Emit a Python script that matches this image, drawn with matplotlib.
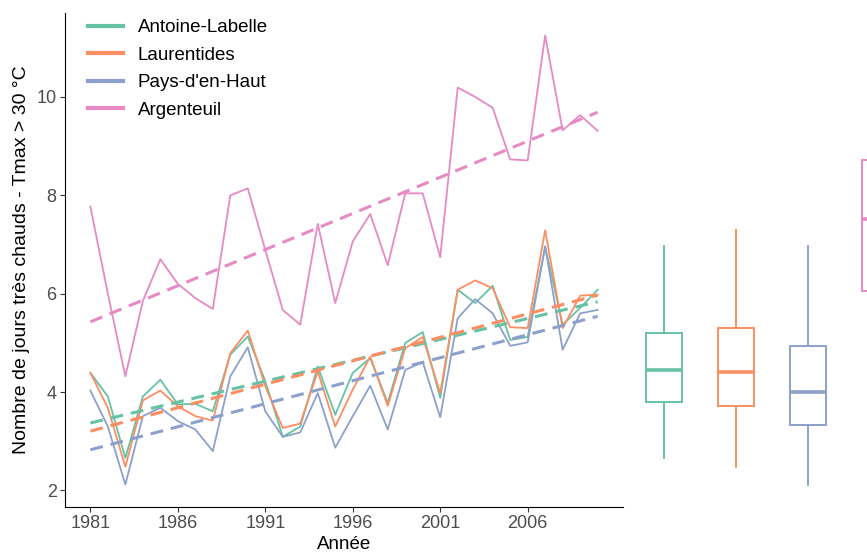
import numpy as np
import matplotlib
matplotlib.use("Agg")
import matplotlib.pyplot as plt

plt.rcParams['font.family'] = ['Liberation Sans', 'DejaVu Sans']

years = list(range(1981, 2011))
names = ["Antoine-Labelle", "Laurentides", "Pays-d'en-Haut", "Argenteuil"]
colors = ["#66C2A5", "#FC8D62", "#8DA0CB", "#E78AC3"]

antoine = [4.39, 3.91, 2.66, 3.91, 4.25, 3.75, 3.76, 3.61, 4.76, 5.13,
           4.22, 3.09, 3.30, 4.52, 3.54, 4.39, 4.69, 3.78, 5.00, 5.22,
           3.88, 6.08, 5.81, 6.16, 5.06, 5.12, 6.96, 5.37, 5.71, 6.08]
laurentides = [4.39, 3.68, 2.48, 3.83, 4.03, 3.71, 3.51, 3.42, 4.79, 5.25,
               4.12, 3.27, 3.36, 4.42, 3.30, 4.05, 4.72, 3.72, 4.89, 5.12,
               3.98, 6.08, 6.27, 6.11, 5.32, 5.30, 7.29, 5.30, 5.96, 5.98]
paysdenhaut = [4.03, 3.30, 2.12, 3.51, 3.68, 3.41, 3.24, 2.80, 4.32, 4.91,
               3.61, 3.09, 3.18, 3.98, 2.87, 3.51, 4.13, 3.24, 4.45, 4.61,
               3.49, 5.50, 5.89, 5.60, 4.94, 5.01, 6.96, 4.86, 5.60, 5.67]
argenteuil = [7.77, 6.00, 4.32, 5.85, 6.70, 6.20, 5.91, 5.69, 8.00, 8.14,
              6.89, 5.67, 5.37, 7.42, 5.81, 7.06, 7.62, 6.58, 8.04, 8.04,
              6.74, 10.19, 10.00, 9.78, 8.73, 8.71, 11.25, 9.32, 9.63, 9.31]

series = [antoine, laurentides, paysdenhaut, argenteuil]
xticks = [1981, 1986, 1991, 1996, 2001, 2006]
xlabel = "Année"
ylabel = "Nombre de jours très chauds - Tmax > 30 °C"

W, H = 867, 554
fig = plt.figure(figsize=(W / 100, H / 100), dpi=100)

# main axes
ax = fig.add_axes([65 / W, (H - 507) / H, 558 / W, 494 / H])
yrs = np.array(years)
for s, c, n in zip(series, colors, names):
    ax.plot(yrs, s, color=c, lw=1.3, label=n, zorder=2)
for s, c in zip(series, colors):
    k, b = np.polyfit(yrs, s, 1)
    ax.plot(yrs, k * yrs + b, color=c, lw=2.2, dashes=(4.2, 2.6), zorder=3)

allv = np.concatenate([np.array(s) for s in series])
lo, hi = allv.min(), allv.max()
r = hi - lo
ylim = (lo - 0.05 * r, hi + 0.05 * r)
ax.set_ylim(ylim)
xr = years[-1] - years[0]
ax.set_xlim(years[0] - 0.05 * xr, years[-1] + 0.05 * xr)
ax.set_xticks(xticks)
ax.set_yticks([2, 4, 6, 8, 10])
for sp in ['top', 'right']:
    ax.spines[sp].set_visible(False)
for sp in ['left', 'bottom']:
    ax.spines[sp].set_linewidth(0.8)
    ax.spines[sp].set_color('black')
ax.tick_params(axis='both', labelsize=13, labelcolor='#4D4D4D', color='#333333',
               length=3.5, width=0.8, pad=2.5)
ax.set_xlabel(xlabel, fontsize=13.5, color='black')
ax.set_ylabel(ylabel, fontsize=14, color='black')
ax.xaxis.set_label_coords(0.5, -0.058)
ax.yaxis.set_label_coords(-0.062, 0.5)

leg = ax.legend(loc='upper left', bbox_to_anchor=(0.028, 1.003), frameon=False,
                fontsize=13.5, handlelength=1.85, handletextpad=0.8, labelspacing=0.56,
                borderaxespad=0.0)
for h in leg.get_lines():
    h.set_linewidth(3.0)

# boxplot axes (partially outside the figure, as in the reference)
unit = 72
left_px = 664 - 0.6 * unit
bax = fig.add_axes([left_px / W, (H - 507) / H, 4.2 * unit / W, 494 / H])
bp = bax.boxplot(series, positions=[1, 2, 3, 4], widths=0.5, showcaps=False,
                 patch_artist=True, whis=1.5)
for i, c in enumerate(colors):
    bp['boxes'][i].set(facecolor='white', edgecolor=c, linewidth=1.4)
    bp['medians'][i].set(color=c, linewidth=2.6)
    for w in bp['whiskers'][2 * i:2 * i + 2]:
        w.set(color=c, linewidth=1.4)
    bp['fliers'][i].set(markeredgecolor=c, markerfacecolor=c, marker='o', markersize=3)
bax.set_xlim(0.4, 4.6)
bax.set_ylim(ylim)
bax.axis('off')

fig.savefig("out.png", dpi=100)
